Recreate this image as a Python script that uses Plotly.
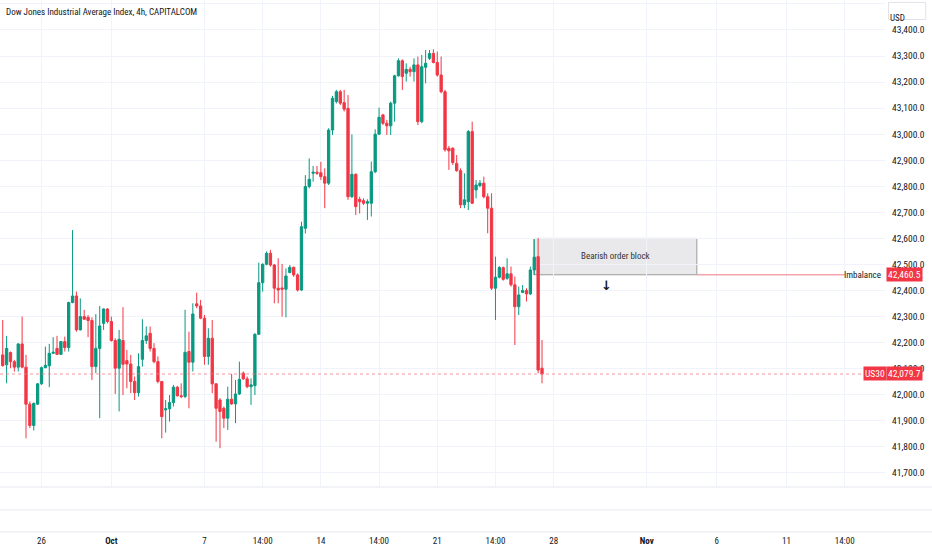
import plotly.graph_objects as go

# Velas de 4h del US30 (una por barra)
opens = [42153, 42115, 42162, 42127, 42106, 42195, 42106, 41964, 41882, 41964,
         42042, 42104, 42111, 42159, 42178, 42155, 42204, 42181, 42354, 42379,
         42249, 42300, 42297, 42285, 42108, 42178, 42274, 42329, 42281, 42208,
         42102, 42208, 42131, 42118, 42051, 42008, 42136, 42208, 42236, 42178,
         42127, 42051, 41942, 41946, 41970, 42029, 41996, 41993, 42166, 42125,
         42349, 42341, 42294, 42147, 42217, 42042, 41980, 41948, 41910, 41983,
         41965, 42003, 42083, 42061, 42031, 42035, 42232, 42430, 42501, 42543,
         42498, 42409, 42410, 42405, 42469, 42489, 42460, 42402, 42639, 42799,
         42850, 42854, 42852, 42837, 42812, 43016, 43125, 43163, 43121, 43099,
         42760, 42846, 42750, 42745, 42735, 42735, 42856, 43000, 43074, 43042,
         43032, 43119, 43224, 43282, 43234, 43249, 43240, 43266, 43048, 43257,
         43291, 43310, 43275, 43227, 43163, 42946, 42946, 42888, 42860, 42729,
         42741, 43010, 42786, 42803, 42812, 42760, 42716, 42409, 42451, 42488,
         42447, 42464, 42422, 42338, 42393, 42400, 42387, 42479, 42530, 42102]
highs = [42287, 42226, 42166, 42134, 42198, 42300, 42153, 41974, 41970, 42044,
         42108, 42185, 42195, 42221, 42226, 42206, 42223, 42357, 42632, 42396,
         42370, 42326, 42306, 42297, 42310, 42341, 42332, 42332, 42300, 42217,
         42249, 42336, 42172, 42153, 42070, 42159, 42290, 42262, 42262, 42198,
         42147, 42053, 41980, 41999, 42038, 42034, 42044, 42326, 42242, 42351,
         42392, 42364, 42306, 42255, 42287, 42044, 41987, 41955, 42031, 42080,
         42057, 42127, 42089, 42070, 42063, 42236, 42507, 42504, 42550, 42556,
         42502, 42524, 42502, 42485, 42498, 42492, 42466, 42664, 42843, 42907,
         42878, 42878, 42894, 42869, 43023, 43147, 43170, 43170, 43170, 43150,
         42999, 42850, 42760, 42754, 42750, 42895, 43019, 43102, 43078, 43055,
         43125, 43228, 43291, 43287, 43272, 43259, 43291, 43298, 43304, 43323,
         43323, 43326, 43317, 43298, 43170, 42955, 42950, 42920, 42869, 42850,
         43016, 43048, 42824, 42824, 42837, 42773, 42773, 42530, 42494, 42492,
         42524, 42492, 42454, 42415, 42421, 42409, 42492, 42597, 42601, 42210]
lows = [42108, 42044, 42102, 42089, 42089, 42102, 41833, 41872, 41863, 41961,
        42038, 42102, 42029, 42157, 42153, 42153, 42166, 42166, 42351, 42242,
        42247, 42287, 42221, 42057, 42083, 41910, 42249, 42274, 42204, 42003,
        41936, 41999, 42025, 42006, 41980, 41993, 42108, 42195, 42166, 42121,
        42044, 41833, 41855, 41897, 41955, 41993, 41987, 41987, 41948, 42089,
        42332, 42290, 42115, 42115, 42006, 41820, 41795, 41872, 41865, 41961,
        41891, 41999, 42057, 42025, 41961, 41999, 42230, 42396, 42497, 42492,
        42351, 42351, 42300, 42297, 42466, 42452, 42396, 42399, 42619, 42792,
        42818, 42844, 42824, 42716, 42805, 42997, 43118, 43112, 43087, 42748,
        42755, 42690, 42696, 42728, 42671, 42684, 42850, 42997, 43035, 42997,
        42997, 43048, 43221, 43170, 43202, 43221, 43202, 43035, 43042, 43195,
        43285, 43272, 43221, 43157, 42933, 42863, 42882, 42856, 42716, 42716,
        42709, 42732, 42754, 42796, 42754, 42620, 42402, 42287, 42447, 42438,
        42441, 42415, 42191, 42306, 42390, 42358, 42383, 42460, 42083, 42044]
closes = [42112, 42178, 42127, 42106, 42195, 42106, 41964, 41882, 41967, 42042,
          42104, 42113, 42159, 42163, 42155, 42204, 42181, 42354, 42379, 42249,
          42300, 42290, 42285, 42108, 42178, 42264, 42329, 42281, 42208, 42102,
          42213, 42117, 42118, 42051, 42008, 42108, 42208, 42226, 42178, 42127,
          42051, 41916, 41946, 41970, 42029, 41996, 41993, 42163, 42125, 42310,
          42341, 42294, 42147, 42217, 42042, 41948, 41936, 41910, 41983, 41965,
          42003, 42059, 42061, 42031, 42038, 42232, 42430, 42501, 42543, 42498,
          42409, 42402, 42405, 42456, 42489, 42460, 42402, 42645, 42799, 42827,
          42854, 42850, 42837, 42812, 43016, 43138, 43163, 43119, 43096, 42760,
          42846, 42722, 42741, 42735, 42741, 42856, 43000, 43065, 43042, 43032,
          43119, 43224, 43282, 43221, 43249, 43240, 43266, 43048, 43259, 43272,
          43310, 43275, 43227, 43163, 42940, 42936, 42891, 42860, 42729, 42748,
          43010, 42735, 42805, 42812, 42760, 42716, 42409, 42451, 42488, 42443,
          42464, 42422, 42338, 42383, 42400, 42387, 42479, 42528, 42095, 42079.7]

# eje de tiempo (en barras)
tick_pos = [10, 28, 52, 67, 82, 97, 112, 127, 142, 166, 184, 202, 217]
tick_text = ["26", "<b>Oct</b>", "7", "14:00", "14", "14:00", "21", "14:00", "28",
             "<b>Nov</b>", "6", "11", "14:00"]

# zona del order block e imbalance
ob_start, ob_end = 136.9, 178.9
ob_top, ob_bottom = 42600, 42460.5
imb_end = 217.0
last_price = 42079.7

GREEN = "#089981"
RED = "#F23645"
GRID = "#f0f3fa"
TXT = "#131722"
FONT = "Liberation Sans Narrow, Roboto Condensed, Roboto, Liberation Sans"

x = list(range(len(closes)))

fig = go.Figure()
fig.add_trace(go.Candlestick(
    x=x, open=opens, high=highs, low=lows, close=closes,
    increasing=dict(line=dict(color=GREEN, width=1), fillcolor=GREEN),
    decreasing=dict(line=dict(color=RED, width=1), fillcolor=RED),
    whiskerwidth=0, hoverinfo="skip"))

shapes = []
# order block
shapes.append(dict(type="rect", xref="x", yref="y", x0=ob_start, x1=ob_end,
                   y0=ob_bottom, y1=ob_top, fillcolor="#e9e9ec",
                   line=dict(color="#9b9b9b", width=1), layer="below"))
# linea imbalance
shapes.append(dict(type="line", xref="x", yref="y", x0=ob_end, x1=imb_end,
                   y0=ob_bottom, y1=ob_bottom, line=dict(color="#f5a3ab", width=1.5)))
# linea de ultimo precio
shapes.append(dict(type="line", xref="paper", yref="y", x0=0, x1=0.974,
                   y0=last_price, y1=last_price, line=dict(color="#f27a86", width=0.8, dash="dot")))
# separadores de paneles inferiores
for yy in [0, -0.047, -0.092]:
    shapes.append(dict(type="line", xref="paper", yref="paper", x0=0, x1=1.06,
                       y0=yy, y1=yy, line=dict(color="#e6e8ee", width=1)))
# caja USD
shapes.append(dict(type="rect", xref="paper", yref="paper", x0=1.004, x1=1.046,
                   y0=0.96, y1=0.995, line=dict(color="#e0e3eb", width=1),
                   fillcolor="white"))

annotations = [
    dict(xref="paper", yref="paper", x=0.005, y=0.99, xanchor="left", yanchor="top",
         text="Dow Jones Industrial Average Index, 4h, CAPITALCOM", showarrow=False,
         font=dict(size=9, color=TXT, family=FONT)),
    dict(xref="paper", yref="paper", x=1.025, y=0.978, text="USD", showarrow=False,
         font=dict(size=9, color=TXT, family=FONT)),
    dict(xref="x", yref="y", x=(ob_start + ob_end) / 2, y=42533, text="Bearish order block",
         showarrow=False, font=dict(size=9, color="#333333", family=FONT)),
    dict(xref="x", yref="y", x=155.7, y=42418, text="<b>↓</b>", showarrow=False,
         font=dict(size=13, color="#131722", family="DejaVu Sans")),
    dict(xref="paper", yref="y", x=0.998, y=ob_bottom, xanchor="right", text="Imbalance",
         showarrow=False, font=dict(size=9, color=TXT, family=FONT)),
    dict(xref="paper", yref="y", x=1.0015, y=ob_bottom, xanchor="left", text="42,460.5",
         showarrow=False, bgcolor=RED, borderpad=1,
         font=dict(size=9.5, color="white", family=FONT)),
    dict(xref="paper", yref="y", x=0.975, y=last_price, xanchor="left", text="US30",
         showarrow=False, bgcolor=RED, borderpad=1,
         font=dict(size=9.5, color="white", family=FONT)),
    dict(xref="paper", yref="y", x=1.0015, y=last_price, xanchor="left", text="42,079.7",
         showarrow=False, bgcolor=RED, borderpad=1,
         font=dict(size=9.5, color="white", family=FONT)),
]

fig.update_layout(
    width=932, height=550,
    margin=dict(l=0, r=47, t=0, b=63),
    plot_bgcolor="white", paper_bgcolor="white",
    showlegend=False, boxgap=0.15,
    font=dict(family=FONT, size=9, color=TXT),
    shapes=shapes, annotations=annotations,
    xaxis=dict(range=[-0.7, 227.4], tickvals=tick_pos, ticktext=tick_text,
               showgrid=True, gridcolor=GRID, zeroline=False, showline=False,
               ticks="", rangeslider=dict(visible=False), ticklabelstandoff=47,
               tickfont=dict(size=9, color=TXT)),
    yaxis=dict(side="right", range=[41646, 43515], dtick=100, tick0=0,
               tickformat=",.1f", showgrid=True, gridcolor=GRID, zeroline=False,
               ticks="", ticklabelstandoff=6, automargin=False,
               tickfont=dict(size=9.5, color=TXT)),
)

# quitamos el margen por defecto del body para que la figura empiece en 0,0
fig.write_html("out.html", config={"displayModeBar": False},
               post_script="document.body.style.margin='0';")
